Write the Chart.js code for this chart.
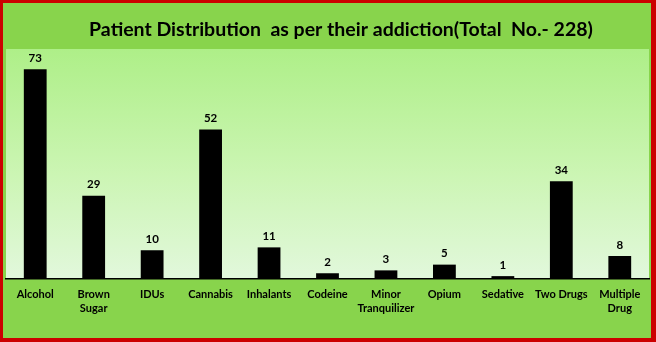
<!DOCTYPE html>
<html>
<head>
<meta charset="utf-8">
<script src="https://cdn.jsdelivr.net/npm/chart.js@4/dist/chart.umd.min.js"></script>
<style>
  html, body { margin: 0; padding: 0; background: #fff; }
  #wrap { width: 656px; height: 342px; }
</style>
</head>
<body>
<div id="wrap"><canvas id="c" width="656" height="342"></canvas></div>
<script>
const categories = [
  'Alcohol', ['Brown', 'Sugar'], 'IDUs', 'Cannabis', 'Inhalants', 'Codeine',
  ['Minor', 'Tranquilizer'], 'Opium', 'Sedative', 'Two Drugs', ['Multiple', 'Drug']
];
const patients = [73, 29, 10, 52, 11, 2, 3, 5, 1, 34, 8];
const chartTitle = 'Patient Distribution  as per their addiction(Total  No.- 228)';

const FONT = 'Lato, "Open Sans", sans-serif';

// Frame: green panel, gradient plot area, red outline
const backdrop = {
  id: 'backdrop',
  beforeDraw(chart) {
    const { ctx, chartArea: a, width, height } = chart;
    ctx.save();
    ctx.fillStyle = '#88d44c';
    ctx.fillRect(0, 0, width, height);
    const g = ctx.createLinearGradient(0, a.top, 0, a.bottom);
    g.addColorStop(0, '#aeef88');
    g.addColorStop(0.55, '#ccf5b4');
    g.addColorStop(1, '#e2f8dc');
    ctx.fillStyle = g;
    ctx.fillRect(a.left, a.top, a.right - a.left, a.bottom - a.top);
    ctx.restore();
  },
  afterDraw(chart) {
    const { ctx, width, height } = chart;
    ctx.save();
    ctx.fillStyle = '#cc0000';
    ctx.fillRect(0, 0, width, 3);
    ctx.fillRect(0, 0, 3, height);
    ctx.fillRect(width - 5, 0, 5, height);
    ctx.fillRect(0, height - 4, width, 4);
    // heading
    ctx.fillStyle = '#000';
    ctx.font = 'bold 19.5px ' + FONT;
    ctx.textAlign = 'center';
    ctx.textBaseline = 'middle';
    ctx.fillText(chartTitle, 341, 30);
    ctx.restore();
  }
};

// Value printed above each bar
const valueLabels = {
  id: 'valueLabels',
  afterDatasetsDraw(chart) {
    const { ctx } = chart;
    const meta = chart.getDatasetMeta(0);
    const data = chart.data.datasets[0].data;
    ctx.save();
    ctx.fillStyle = '#000';
    ctx.font = 'bold 11.5px ' + FONT;
    ctx.textAlign = 'center';
    ctx.textBaseline = 'middle';
    meta.data.forEach((bar, i) => {
      ctx.fillText(String(data[i]), bar.x, bar.y - 11);
    });
    ctx.restore();
  }
};

new Chart(document.getElementById('c'), {
  type: 'bar',
  data: {
    labels: categories,
    datasets: [{
      data: patients,
      backgroundColor: '#000000',
      borderWidth: 0,
      barPercentage: 0.39,
      categoryPercentage: 1.0
    }]
  },
  options: {
    responsive: false,
    animation: false,
    events: [],
    layout: { padding: { left: 6, right: 7, top: 49, bottom: 0 } },
    plugins: {
      legend: { display: false },
      title: { display: false },
      tooltip: { enabled: false }
    },
    scales: {
      x: {
        grid: { display: false, drawTicks: false },
        border: { display: true, color: '#000', width: 1.5 },
        ticks: {
          color: '#000',
          font: { family: FONT, size: 11, weight: 'bold', lineHeight: 1.3 },
          padding: 8,
          maxRotation: 0,
          autoSkip: false
        },
        afterFit(scale) { scale.height = 63; }
      },
      y: {
        display: false,
        min: 0,
        max: 80
      }
    }
  },
  plugins: [backdrop, valueLabels]
});
</script>
</body>
</html>
